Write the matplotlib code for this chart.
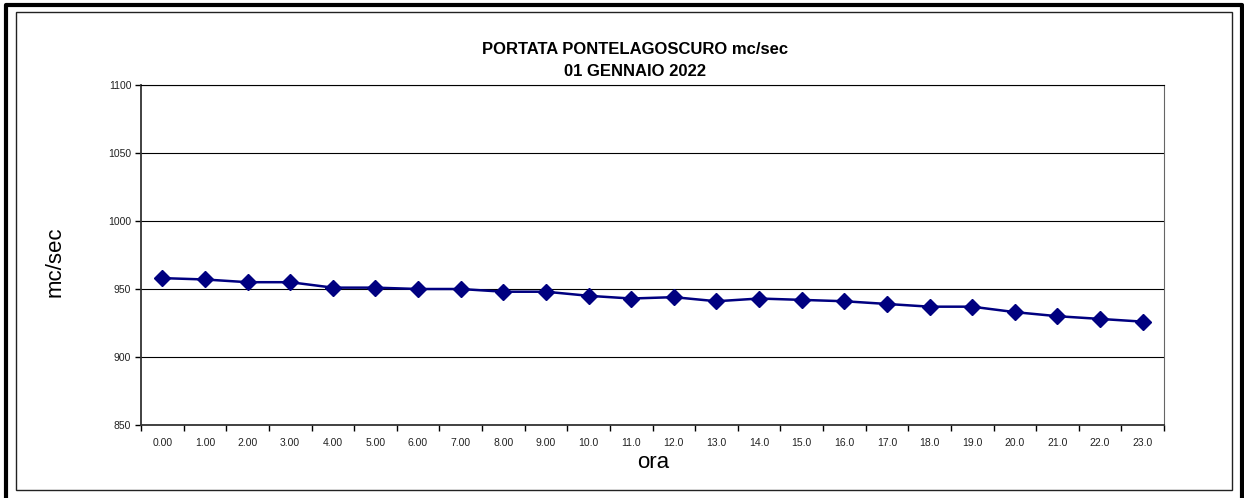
import matplotlib
matplotlib.use("Agg")
import matplotlib.pyplot as plt
from matplotlib.patches import Rectangle
from matplotlib.lines import Line2D

plt.rcParams['font.family'] = ['Liberation Sans', 'DejaVu Sans']

ore = [f"{h}.00" if h < 10 else f"{h}.0" for h in range(24)]
portata = [958, 957, 955, 955, 951, 951, 950, 950, 948, 948, 945, 943,
           944, 941, 943, 942, 941, 939, 937, 937, 933, 930, 928, 926]

W, H = 1244, 498
fig = plt.figure(figsize=(W / 100, H / 100), dpi=100)

# cornice esterna (sinistra, alto, destra)
xl, xr, yt = 5.8 / W, 1241.5 / W, 1 - 5.3 / H
fig.lines.append(Line2D([xl, xl, xr, xr], [0, yt, yt, 0], transform=fig.transFigure,
                        color='black', linewidth=3))
# cornice interna
fig.patches.append(Rectangle((15.5 / W, (H - 490) / H), 1216.5 / W, 478 / H,
                             transform=fig.transFigure, fill=False,
                             edgecolor='#222222', linewidth=1.0))

ax = fig.add_axes([141 / W, (H - 425) / H, (1164 - 141) / W, 340 / H])

x = list(range(len(ore)))
ax.plot(x, portata, color='#000080', linewidth=1.8, marker='D', markersize=8,
        markerfacecolor='#000080', markeredgecolor='#000080', zorder=3)

ax.set_ylim(850, 1100)
ax.set_yticks(range(850, 1101, 50))
ax.set_xlim(-0.5, len(ore) - 0.5)
ax.set_xticks([i - 0.5 for i in range(len(ore) + 1)])
ax.set_xticklabels([])
ax.set_xticks(x, minor=True)
ax.set_xticklabels(ore, minor=True)
ax.tick_params(axis='x', which='minor', length=0, pad=9, labelsize=7.5, colors='#222222')
ax.tick_params(axis='x', which='major', length=4, width=1, direction='out')
ax.tick_params(axis='y', length=4, width=1, direction='out', pad=3, labelsize=7.5,
               labelcolor='#222222')

ax.yaxis.grid(True, color='black', linewidth=0.8)
ax.set_axisbelow(True)
for s in ['left', 'bottom']:
    ax.spines[s].set_linewidth(1.3)
    ax.spines[s].set_color('#333333')
ax.spines['right'].set_color('#666666')
ax.spines['top'].set_color('black')
ax.spines['top'].set_linewidth(0.8)

fig.text(55 / W, 1 - 262 / H, 'mc/sec', rotation=90, fontsize=16, ha='center', va='center')
fig.text(653 / W, 1 - 462 / H, 'ora', fontsize=16, ha='center', va='center')
fig.text(635 / W, 1 - 50 / H, 'PORTATA PONTELAGOSCURO mc/sec', fontsize=12,
         fontweight='bold', ha='center', va='center')
fig.text(635 / W, 1 - 72 / H, '01 GENNAIO 2022', fontsize=12,
         fontweight='bold', ha='center', va='center')

fig.savefig('out.png', dpi=100)
